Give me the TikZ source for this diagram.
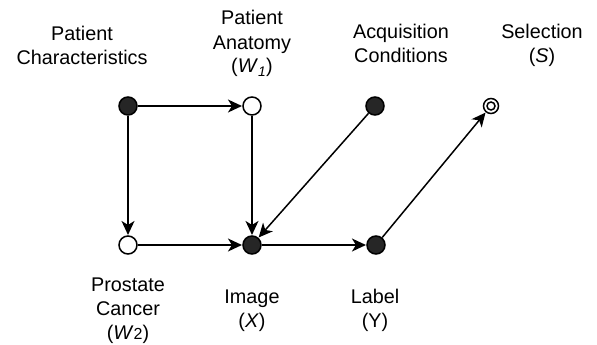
\documentclass[tikz,border=0pt]{standalone}
\usepackage{fontspec}
\setmainfont{Liberation Sans}
\usetikzlibrary{arrows.meta}
\tikzset{
  lbl/.style={align=center, anchor=base, inner sep=0pt, font=\fontsize{19.8}{24}\selectfont},
  filledvar/.style={circle, draw=black, fill=black!85, line width=1.5pt, minimum size=18pt, inner sep=0pt},
  latentvar/.style={circle, draw=black, fill=white, line width=1.5pt, minimum size=18pt, inner sep=0pt},
  selvar/.style={circle, draw=black, fill=white, line width=1.5pt, minimum size=15pt, inner sep=0pt},
  edge/.style={-{Stealth[length=14pt, width=13pt, inset=4pt]}, line width=1.5pt, shorten >=0.3pt},
}
\begin{document}
\begin{tikzpicture}[x=1pt, y=-1pt]
\useasboundingbox (0,0) rectangle (597,345);
% nodes
\node[filledvar] (pc) at (128,106) {};
\node[latentvar] (w1) at (252,106) {};
\node[filledvar] (ac) at (375,106) {};
\node[selvar] (s) at (491,106) {};
\node[circle, draw=black, line width=1.5pt, minimum size=8pt, inner sep=0pt] (sin) at (s.center) {};
\node[latentvar] (w2) at (128,245) {};
\node[filledvar] (x) at (252,245) {};
\node[filledvar] (y) at (376,245) {};
% labels (anchored at the baseline of the last line)
\node[lbl] (lpc) at (82,64) {Patient\\Characteristics};
\node[lbl] (lw1) at (252,73) {Patient\\Anatomy\\(\textit{W}\textsubscript{\textit{1}})};
\node[lbl] (lac) at (401,63) {Acquisition\\Conditions};
\node[lbl] (ls) at (542,63) {Selection\\(\textit{S})};
\node[lbl] (lw2) at (128,339) {Prostate\\Cancer\\(\textit{W}{\fontsize{16}{24}\selectfont 2})};
\node[lbl] (lx) at (252,327) {Image\\(\textit{X})};
\node[lbl] (ly) at (375,327) {Label\\(Y)};
% edges
\draw[edge] (pc) -- (w1);
\draw[edge] (pc) -- (w2);
\draw[edge] (w1) -- (x);
\draw[edge] (ac) -- (x);
\draw[edge] (w2) -- (x);
\draw[edge] (x) -- (y);
\draw[edge] (y) -- (s);
\end{tikzpicture}
\end{document}
